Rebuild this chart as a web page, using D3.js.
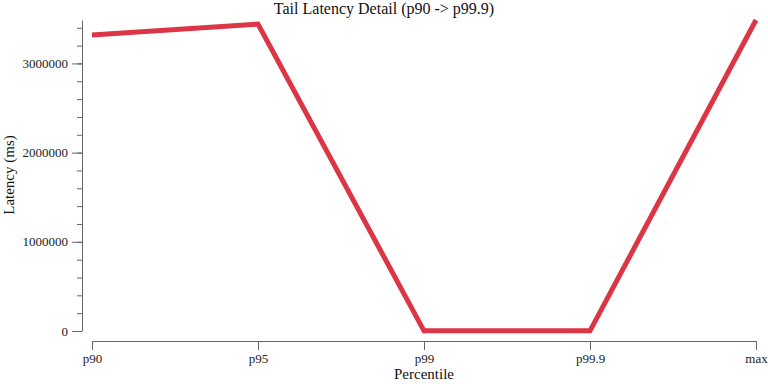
<!DOCTYPE html>
<html><head><meta charset="utf-8">
<script src="https://cdn.jsdelivr.net/npm/d3@7"></script>
<style>body{margin:0;background:#fff}svg{display:block;font-family:"Liberation Serif",serif}</style>
</head><body>
<svg id="c" width="768" height="384"></svg>
<script>
const categories = ["p90","p95","p99","p99.9","max"];
const latency = [3320000, 3442000, 2000, 2000, 3487000];
const majorTicks = [0, 1000000, 2000000, 3000000];
const title = "Tail Latency Detail (p90 -> p99.9)";

const svg = d3.select("#c");
const x = d3.scalePoint().domain(categories).range([92, 756]);
const y = d3.scaleLinear().domain([0, d3.max(latency)]).range([331, 20]);

const axisColor = "#666";
// minor y ticks
const minor = d3.range(0, d3.max(latency), 200000);
const gMinor = svg.append("g").attr("transform","translate(82,0)")
  .call(d3.axisLeft(y).tickValues(minor).tickSize(5).tickSizeOuter(0).tickFormat(""));
gMinor.selectAll("line").attr("stroke", axisColor);
gMinor.select(".domain").attr("stroke", axisColor);
const gy = svg.append("g").attr("transform","translate(82,0)")
  .call(d3.axisLeft(y).tickValues(majorTicks).tickSize(10).tickSizeOuter(0).tickPadding(4).tickFormat(d3.format("d")));
gy.select(".domain").remove();
gy.selectAll("line").attr("stroke", axisColor);
gy.selectAll("text").attr("font-size", 13).attr("fill", "#222").attr("font-family","Liberation Serif");

const gx = svg.append("g").attr("transform","translate(0,341)")
  .call(d3.axisBottom(x).tickSize(9).tickSizeOuter(0).tickPadding(4));
gx.selectAll("line").attr("stroke", axisColor);
gx.select(".domain").attr("stroke", axisColor);
gx.selectAll("text").attr("font-size", 13).attr("fill", "#222").attr("font-family","Liberation Serif");

svg.append("path").datum(latency)
  .attr("fill","none").attr("stroke","#dc3545").attr("stroke-width",5)
  .attr("d", d3.line().x((d,i)=>x(categories[i])).y(d=>y(d)));

svg.append("text").attr("x", 384).attr("y", 14).attr("text-anchor","middle")
  .attr("font-size", 16).attr("fill","#111").text(title);
svg.append("text").attr("x", 424).attr("y", 379).attr("text-anchor","middle")
  .attr("font-size", 15).attr("fill","#111").text("Percentile");
svg.append("text").attr("transform","translate(14,175) rotate(-90)").attr("text-anchor","middle")
  .attr("font-size", 15).attr("fill","#111").text("Latency (ms)");
</script>
</body></html>
